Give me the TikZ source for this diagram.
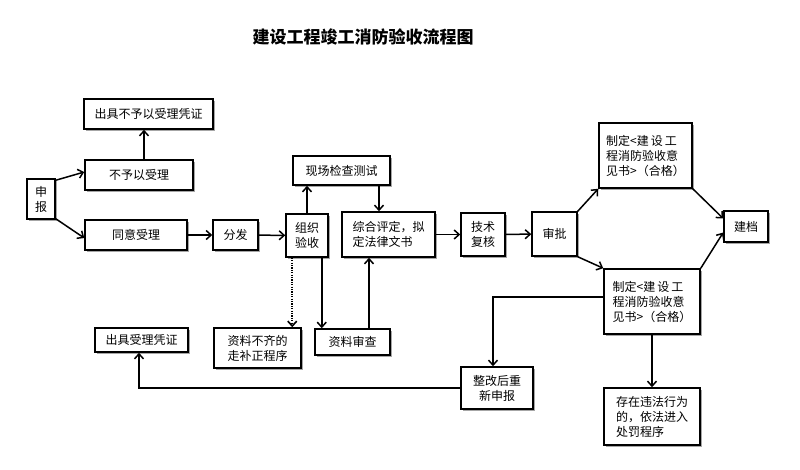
\documentclass[tikz,border=0pt]{standalone}
\usepackage{fontspec}
\setmainfont{Noto Sans CJK SC}
\usetikzlibrary{arrows.meta,shadows,calc}
\begin{document}
\begin{tikzpicture}[x=1pt,y=-1pt,
  box/.style={draw,line width=1.5pt,fill=white,inner sep=0pt,
    font=\fontsize{12}{15}\selectfont,align=center,
    drop shadow={shadow xshift=1.5pt,shadow yshift=-1.5pt,fill=black!35,opacity=1}},
  arr/.style={line width=1.5pt,-{Straight Barb[length=5pt,width=9pt]}},
  ln/.style={line width=1.5pt},
  dotarr/.style={line width=1.6pt,dash pattern=on 1.2pt off 1.2pt,-{Straight Barb[length=5pt,width=9pt]}},
]
\useasboundingbox (0,0) rectangle (800,469);
\node[font=\bfseries\fontsize{17}{19}\selectfont] (title) at (363,37) {建设工程竣工消防验收流程图};

\node[box,minimum width=129,minimum height=30] (t1) at (148.5,114) {出具不予以受理凭证};
\node[box,minimum width=108,minimum height=30] (n2) at (139,175) {不予以受理};
\node[box,minimum width=28,minimum height=40] (sb) at (41,199) {申\\报};
\node[box,minimum width=102,minimum height=30] (ty) at (136,235) {同意受理};
\node[box,minimum width=45,minimum height=30] (ff) at (235.5,235) {分发};
\node[box,minimum width=42,minimum height=43] (zz) at (307,235.5) {组织\\验收};
\node[box,minimum width=97,minimum height=29] (xc) at (341.5,170.5) {现场检查测试};
\node[box,minimum width=93,minimum height=45,align=left] (zh) at (388.5,234.5) {综合评定，拟\\定法律文书};
\node[box,minimum width=44,minimum height=43] (js) at (483,234.5) {技术\\复核};
\node[box,minimum width=45,minimum height=44] (sp) at (554.5,234) {审批};
\node[box,minimum width=93,minimum height=65,align=left] (zd1) at (645.5,155.5) {制定<建\,设\,工\\程消防验收意\\见书>（合格）};
\node[box,minimum width=44,minimum height=31] (jd) at (746,226.5) {建档};
\node[box,minimum width=96,minimum height=65,align=left] (zd2) at (652,301.5) {制定<建\,设\,工\\程消防验收意\\见书>（合格）};
\node[box,minimum width=72,minimum height=42] (zg) at (497,388) {整改后重\\新申报};
\node[box,minimum width=96,minimum height=57,align=left] (cz) at (652,416.5) {存在违法行为\\的，依法进入\\处罚程序};
\node[box,minimum width=93,minimum height=24] (sj) at (141.5,340) {出具受理凭证};
\node[box,minimum width=87,minimum height=40] (zb) at (257.5,348) {资料不齐的\\走补正程序};
\node[box,minimum width=75,minimum height=26] (sc) at (352.5,342) {资料审查};

\draw[arr] ([yshift=-2pt]sb.north east) -- ([yshift=3pt]n2.west);
\draw[arr] ([yshift=1pt]sb.south east) -- ([yshift=-3pt]ty.west);
\draw[arr] ([xshift=5pt]n2.north) -- ([xshift=5pt]n2.north |- t1.south);
\draw[arr] (ty) -- (ff);
\draw[arr] (ff) -- (zz);
\draw[arr] (zz.north) -- (zz.north |- xc.south);
\draw[arr] ([xshift=-9.5pt]zh.north |- xc.south) -- ([xshift=-9.5pt]zh.north);
\draw[arr] (zh) -- (js);
\draw[arr] (js) -- (sp);
\draw[arr] (sp.north east) -- (zd1.south west);
\draw[arr] (zd1.south east) -- ([yshift=8pt]jd.west);
\draw[arr] (zd2.north east) -- ([yshift=-6pt]jd.west);
\draw[arr] (sp.south east) -- (zd2.north west);
\draw[arr] ([yshift=4.5pt]zd2.west) -| ([xshift=-4pt]zg.north);
\draw[arr] (zd2.south) -- (zd2.south |- cz.north);
\draw[arr] (zg.west) -| ([xshift=-2.5pt]sj.south);
\draw[dotarr] ([xshift=7pt]zz.south west) -- ([xshift=7pt]zz.south west |- zb.north);
\draw[arr] ([xshift=-7pt]zz.south east) -- ([xshift=-7pt]zz.south east |- sc.north);
\draw[arr] ([xshift=16.5pt]sc.north) -- ([xshift=16.5pt]sc.north |- zh.south);
\end{tikzpicture}
\end{document}
